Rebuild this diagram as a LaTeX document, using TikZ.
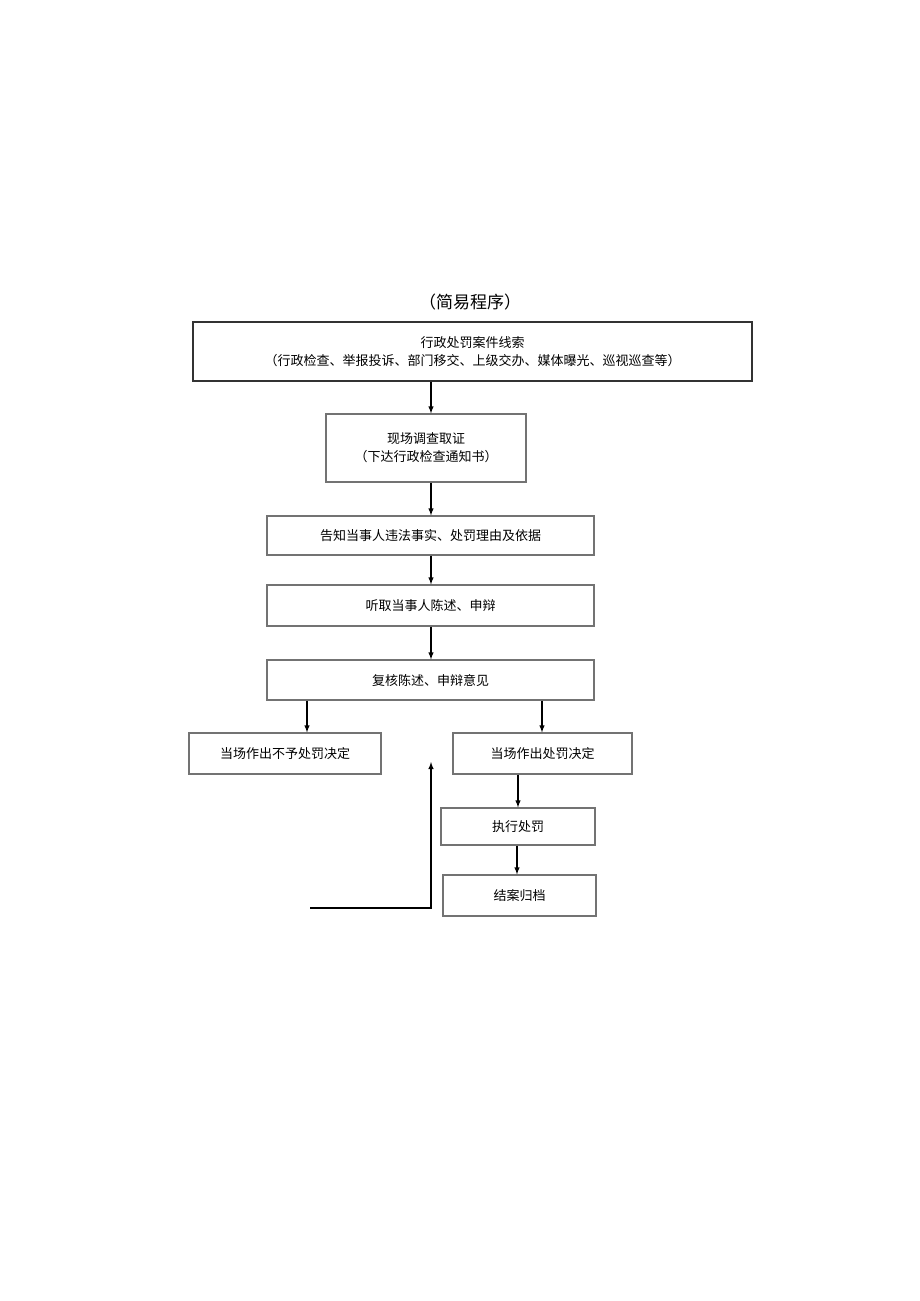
\documentclass[tikz,border=0pt]{standalone}
\usepackage{fontspec}
\newfontfamily\cjk{Noto Sans CJK SC}
\begin{document}
\begin{tikzpicture}[x=1pt,y=-1pt,
  box/.style={draw=black!55,line width=1.2pt,inner sep=0pt,font=\cjk\fontsize{13}{18}\selectfont,align=center},
  arr/.style={->,>=latex,line width=1.4pt}]
\useasboundingbox (0,0) rectangle (920,1301);
\node[font=\cjk\fontsize{17}{20}\selectfont] (t) at (470,302) {（简易程序）};
\node[box,draw=black!80,minimum width=559pt,minimum height=59pt] (a) at (472.5,351.5) {行政处罚案件线索\\（行政检查、举报投诉、部门移交、上级交办、媒体曝光、巡视巡查等）};
\node[box,minimum width=200pt,minimum height=68pt] (b) at (426,448) {现场调查取证\\（下达行政检查通知书）};
\node[box,minimum width=327pt,minimum height=39pt] (c) at (430.5,535.5) {告知当事人违法事实、处罚理由及依据};
\node[box,minimum width=327pt,minimum height=41pt] (d) at (430.5,605.5) {听取当事人陈述、申辩};
\node[box,minimum width=327pt,minimum height=40pt] (e) at (430.5,680) {复核陈述、申辩意见};
\node[box,minimum width=192pt,minimum height=41pt] (l) at (285,753.5) {当场作出不予处罚决定};
\node[box,minimum width=179pt,minimum height=41pt] (r) at (542.5,753.5) {当场作出处罚决定};
\node[box,minimum width=154pt,minimum height=37pt] (x) at (518,826.5) {执行处罚};
\node[box,minimum width=153pt,minimum height=41pt] (j) at (519.5,895.5) {结案归档};
\draw[arr] (a.south -| 431,0) -- (b.north -| 431,0);
\draw[arr] (b.south -| 431,0) -- (c.north -| 431,0);
\draw[arr] (c.south -| 431,0) -- (d.north -| 431,0);
\draw[arr] (d.south -| 431,0) -- (e.north -| 431,0);
\draw[arr] (e.south -| 307,0) -- (l.north -| 307,0);
\draw[arr] (e.south -| 542,0) -- (r.north -| 542,0);
\draw[arr] (r.south -| 518,0) -- (x.north -| 518,0);
\draw[arr] (x.south -| 517,0) -- (j.north -| 517,0);
\coordinate (s) at (310,908);
\coordinate (u) at (431,762);
\draw[arr] (s) -- (s -| u) -- (u);
\end{tikzpicture}
\end{document}
